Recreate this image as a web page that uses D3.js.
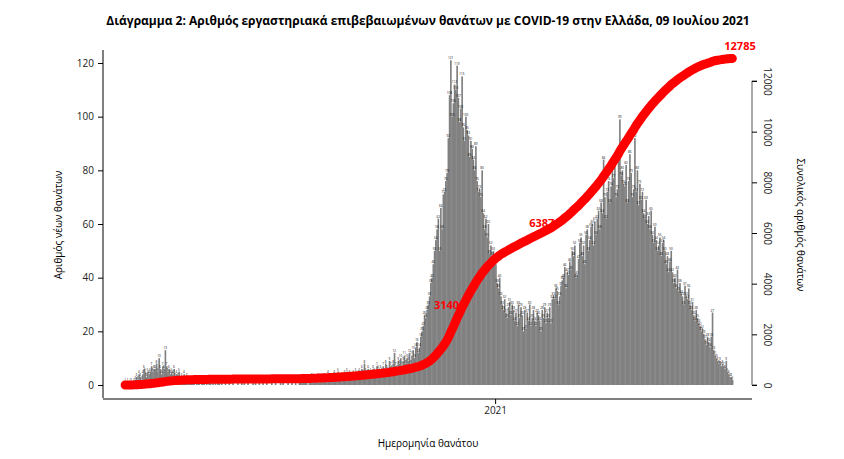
<!DOCTYPE html>
<html><head><meta charset="utf-8">
<script src="https://cdn.jsdelivr.net/npm/d3@7"></script>
<style>body{margin:0;background:#fff}text{font-family:"Open Sans",sans-serif}</style>
</head><body><svg></svg>
<script>
const width = 844, height = 459;

// daily deaths, from 11 Mar 2020 to 9 Jul 2021
const startDate = new Date(2020, 2, 11);
const daily = [
  1,0,1,0,1,1,0,1,2,3,2,4,3,2,4,6,5,3,5,4,5,
  7,5,6,6,8,5,10,6,4,7,6,13,7,5,6,4,5,4,6,3,4,3,5,2,3,2,4,2,3,2,
  2,1,2,1,1,0,2,1,1,0,1,1,2,0,1,0,1,1,0,1,0,1,0,1,1,0,1,0,0,1,0,
  0,1,0,0,1,0,0,0,1,0,0,1,0,1,0,0,1,0,0,0,1,0,1,0,0,1,0,0,1,0,
  0,1,0,0,0,1,0,0,1,0,0,0,1,0,1,0,0,0,1,0,0,1,0,0,1,0,0,1,2,1,1,
  1,2,1,0,2,1,3,1,2,1,2,3,1,2,3,2,3,2,1,4,2,3,2,3,4,3,2,5,3,2,3,
  2,4,3,5,3,4,3,2,4,3,5,3,4,5,3,6,4,8,5,4,6,3,5,4,6,5,4,7,6,5,
  6,5,7,4,8,6,5,9,7,6,8,12,7,6,9,8,10,7,9,11,8,10,9,12,8,11,13,10,14,16,12,
  14,18,20,22,26,25,28,30,33,38,40,45,50,54,58,62,50,66,58,71,72,76,79,92,108,121,100,105,112,110,
  119,107,98,103,115,96,91,100,95,93,85,91,88,84,80,89,76,72,73,70,80,64,58,62,55,60,49,52,48,50,47,
  45,38,36,40,33,30,28,32,27,25,29,31,26,30,28,24,27,22,30,25,29,26,20,28,21,27,24,30,22,25,28,
  24,22,27,26,24,20,28,25,29,23,27,25,29,23,32,33,32,36,35,30,33,37,39,40,44,36,42,41,
  46,43,50,48,52,40,41,47,53,55,48,52,45,56,58,50,54,59,60,52,61,56,62,65,58,68,64,84,70,62,72,
  76,68,74,80,77,82,70,73,85,99,78,80,75,74,82,68,76,86,79,70,73,92,72,80,67,75,69,72,64,62,
  69,60,63,58,65,56,53,59,54,50,52,55,48,53,54,50,45,48,42,46,50,42,38,40,36,43,35,38,34,33,30,
  37,33,32,36,30,28,31,26,24,28,25,23,22,20,21,19,17,15,18,16,14,18,27,13,11,10,9,8,9,7,
  8,7,6,9,5,4,3,3,2
];
const leftTicks = [0, 20, 40, 60, 80, 100, 120];
const rightTicks = [0, 2000, 4000, 6000, 8000, 10000, 12000];
const cumLabels = [3140, 6387];
const finalLabel = 12785;

const data = [];
let cum = 0;
daily.forEach((v, i) => {
  cum += v;
  data.push({ date: d3.timeDay.offset(startDate, i), v, cum });
});

const svg = d3.select("svg").attr("width", width).attr("height", height);

const x = d3.scaleTime()
  .domain([d3.timeDay.offset(startDate, -6), d3.timeDay.offset(startDate, daily.length)])
  .range([117, 733]);
const y = d3.scaleLinear().domain([0, 120]).range([385, 63]);
const y2 = d3.scaleLinear().domain([0, 12000]).range([385, 81]);
const bw = (x(d3.timeDay.offset(startDate, 1)) - x(startDate));

// bars
svg.append("g").selectAll("rect").data(data).join("rect")
  .attr("x", d => x(d.date))
  .attr("y", d => y(d.v))
  .attr("width", bw + 0.4)
  .attr("height", d => y(0) - y(d.v))
  .attr("fill", "#808080");

// tiny value labels
svg.append("g").selectAll("text").data(data.filter(d => d.v > 0)).join("text")
  .attr("x", d => x(d.date) + bw / 2)
  .attr("y", d => y(d.v) - 1)
  .attr("text-anchor", "middle")
  .attr("fill", "#000")
  .style("font-size", "3px")
  .text(d => d.v);

// cumulative line
svg.append("path").datum(data)
  .attr("fill", "none")
  .attr("stroke", "#ff0000")
  .attr("stroke-width", 9)
  .attr("stroke-linecap", "round")
  .attr("d", d3.line().x(d => x(d.date) + bw / 2).y(d => y2(d.cum)));

cumLabels.forEach(c => {
  const d = data.find(p => p.cum >= c);
  svg.append("text")
    .attr("x", x(d.date) + bw / 2 - 4)
    .attr("y", y2(d.cum) + 4)
    .attr("text-anchor", "end")
    .attr("fill", "#ff0000")
    .style("font-size", "11px").style("font-weight", "bold")
    .text(c);
});
const last = data[data.length - 1];
svg.append("text")
  .attr("x", x(last.date) + 24).attr("y", y2(last.cum) - 8)
  .attr("text-anchor", "end").attr("fill", "#ff0000")
  .style("font-size", "11px").style("font-weight", "bold")
  .text(finalLabel);

// left axis
const ya = svg.append("g").attr("transform", "translate(103,0)")
  .call(d3.axisLeft(y).tickValues(leftTicks).tickSize(5).tickPadding(4));
ya.select(".domain").attr("d", "M0,50V398").attr("stroke", "#555").attr("stroke-width", 1.5);
ya.selectAll("text").style("font-size", "10px").attr("fill", "#222");

// right axis
const ra = svg.append("g").attr("transform", "translate(752,0)")
  .call(d3.axisRight(y2).tickValues(rightTicks).tickSize(5).tickFormat(d3.format("d")));
ra.select(".domain").attr("d", "M5,385H0V81H5").attr("stroke", "#555");
ra.selectAll("text")
  .attr("transform", "translate(15,0) rotate(90)")
  .attr("x", 0).attr("y", 0).attr("dy", "0.35em")
  .attr("text-anchor", "middle")
  .style("font-size", "10px").attr("fill", "#222");

// bottom axis
const xa = svg.append("g").attr("transform", "translate(0,399)")
  .call(d3.axisBottom(x).tickValues([new Date(2021, 0, 1)]).tickSize(5).tickFormat(d3.timeFormat("%Y")));
xa.select(".domain").attr("d", "M103,0H752").attr("stroke", "#555").attr("stroke-width", 1.5);
xa.selectAll("text").style("font-size", "10px").attr("fill", "#222");

// titles
svg.append("text").attr("x", 428).attr("y", 25).attr("text-anchor", "middle")
  .style("font-size", "12px").style("font-weight", "bold")
  .text("Διάγραμμα 2: Αριθμός εργαστηριακά επιβεβαιωμένων θανάτων με COVID-19 στην Ελλάδα, 09 Ιουλίου 2021");
svg.append("text").attr("x", 428).attr("y", 447).attr("text-anchor", "middle")
  .style("font-size", "10px").text("Ημερομηνία θανάτου");
svg.append("text").attr("transform", "translate(62,225) rotate(-90)").attr("text-anchor", "middle")
  .style("font-size", "10px").text("Αριθμός νέων θανάτων");
svg.append("text").attr("transform", "translate(797,225) rotate(90)").attr("text-anchor", "middle")
  .style("font-size", "10px").text("Συνολικός αριθμός θανάτων");
</script></body></html>
